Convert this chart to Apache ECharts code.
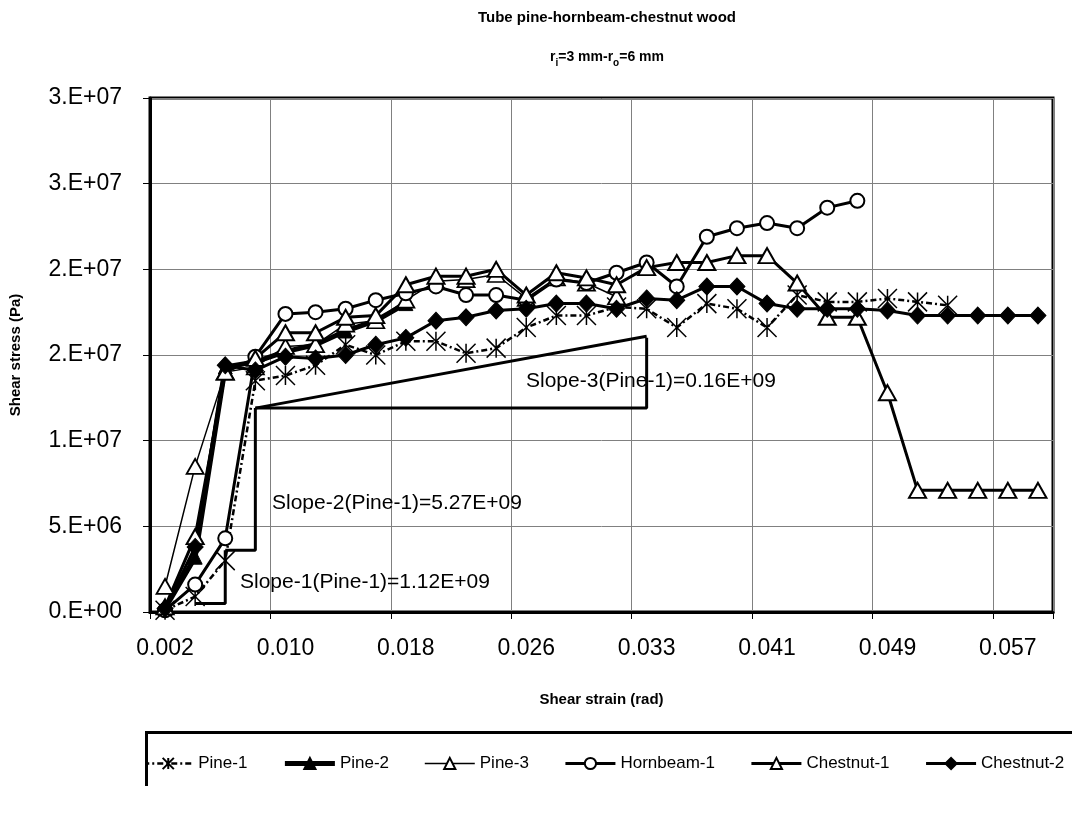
<!DOCTYPE html>
<html>
<head>
<meta charset="utf-8">
<script src="https://cdn.jsdelivr.net/npm/echarts@6/dist/echarts.min.js"></script>
<style>
  html, body { margin: 0; padding: 0; background: #fff; }
  #chart { width: 1072px; height: 814px; }
</style>
</head>
<body>
<div id="chart"></div>
<script>
// Shear strain (rad) at each measurement step
const strainLabels = ['0.002', '0.004', '0.006', '0.008', '0.010', '0.012', '0.014', '0.016',
  '0.018', '0.020', '0.022', '0.024', '0.026', '0.028', '0.030', '0.031', '0.033', '0.035',
  '0.037', '0.039', '0.041', '0.043', '0.045', '0.047', '0.049', '0.051', '0.053', '0.055',
  '0.057', '0.059'];

// Shear stress (Pa) per specimen
const pine1 = [0.1e6, 0.9e6, 3.0e6, 13.5e6, 13.8e6, 14.4e6, 15.6e6, 15.0e6, 15.8e6, 15.8e6,
  15.1e6, 15.4e6, 16.6e6, 17.3e6, 17.3e6, 17.8e6, 17.7e6, 16.6e6, 18.0e6, 17.7e6, 16.6e6,
  18.5e6, 18.1e6, 18.1e6, 18.3e6, 18.1e6, 17.9e6];
const pine2 = [0.2e6, 3.2e6, 14.3e6, 14.6e6, 15.2e6, 15.6e6, 16.4e6, 17.0e6, 18.0e6];
const pine3 = [1.5e6, 8.5e6, 14.0e6, 14.3e6, 15.5e6, 15.6e6, 16.8e6, 17.0e6, 18.2e6, 19.3e6,
  19.4e6, 19.7e6, 18.3e6, 19.5e6, 19.2e6, 18.4e6];
const hornbeam1 = [0.1e6, 1.6e6, 4.3e6, 14.9e6, 17.4e6, 17.5e6, 17.7e6, 18.2e6, 18.6e6, 19.0e6,
  18.5e6, 18.5e6, 18.2e6, 19.4e6, 19.2e6, 19.8e6, 20.4e6, 19.0e6, 21.9e6, 22.4e6, 22.7e6,
  22.4e6, 23.6e6, 24.0e6];
const chestnut1 = [0.3e6, 4.4e6, 14.0e6, 14.8e6, 16.3e6, 16.3e6, 17.2e6, 17.3e6, 19.1e6, 19.6e6,
  19.6e6, 20.0e6, 18.5e6, 19.8e6, 19.5e6, 19.1e6, 20.1e6, 20.4e6, 20.4e6, 20.8e6, 20.8e6,
  19.2e6, 17.2e6, 17.2e6, 12.8e6, 7.1e6, 7.1e6, 7.1e6, 7.1e6, 7.1e6];
const chestnut2 = [0.2e6, 3.8e6, 14.4e6, 14.1e6, 14.9e6, 14.8e6, 15.0e6, 15.6e6, 16.0e6, 17.0e6,
  17.2e6, 17.6e6, 17.7e6, 18.0e6, 18.0e6, 17.7e6, 18.3e6, 18.2e6, 19.0e6, 19.0e6, 18.0e6,
  17.7e6, 17.7e6, 17.7e6, 17.6e6, 17.3e6, 17.3e6, 17.3e6, 17.3e6, 17.3e6];

// Slope construction lines for Pine-1: [strain, stress]
const slope1Guide = [['0.004', 0.5e6], ['0.006', 0.5e6], ['0.006', 3.6e6]];
const slope2Guide = [['0.006', 3.6e6], ['0.008', 3.6e6], ['0.008', 11.9e6]];
const slope3Guide = [['0.008', 11.9e6], ['0.033', 11.9e6], ['0.033', 16.0e6]];
const slope3Rise = [['0.008', 11.9e6], ['0.033', 16.1e6]];

const slopeTexts = ['Slope-1(Pine-1)=1.12E+09', 'Slope-2(Pine-1)=5.27E+09', 'Slope-3(Pine-1)=0.16E+09'];

const FONT = '"Liberation Sans", Arial, Helvetica, sans-serif';

// 1.5e7 -> "2.E+07"
function sciLabel(v) {
  const parts = v.toExponential(0).split('e');
  const exp = parseInt(parts[1], 10);
  return parts[0] + '.E' + (exp < 0 ? '-' : '+') + String(Math.abs(exp)).padStart(2, '0');
}

const asterisk = 'path://M0,0L20,20M20,0L0,20M10,0L10,20';

function dataSeries(name, data, symbol, symbolSize, fill, lineWidth, lineType, borderWidth) {
  return {
    name: name,
    type: 'line',
    data: data,
    symbol: symbol,
    symbolSize: symbolSize,
    showAllSymbol: true,
    animation: false,
    lineStyle: { color: '#000', width: lineWidth, type: lineType },
    itemStyle: { color: fill, borderColor: '#000', borderWidth: borderWidth },
    emphasis: { disabled: true }
  };
}

function guideSeries(data) {
  return {
    type: 'line',
    data: data,
    symbol: 'none',
    silent: true,
    animation: false,
    z: 1,
    lineStyle: { color: '#000', width: 3 }
  };
}

const chart = echarts.init(document.getElementById('chart'), null, { renderer: 'canvas' });

chart.setOption({
  backgroundColor: '#fff',
  animation: false,
  textStyle: { fontFamily: FONT, color: '#000' },
  grid: {
    left: 145, right: 19, top: 98, bottom: 202,
    show: true, borderColor: '#000', borderWidth: 3, backgroundColor: '#fff'
  },
  xAxis: {
    type: 'category',
    data: strainLabels,
    boundaryGap: true,
    name: 'Shear strain (rad)',
    nameLocation: 'middle',
    nameGap: 80,
    nameTextStyle: { fontFamily: FONT, fontSize: 15, fontWeight: 'bold', color: '#000' },
    axisLine: { show: true, lineStyle: { color: '#000', width: 3 } },
    axisTick: { show: true, interval: 3, length: 7, lineStyle: { color: '#000', width: 1 } },
    axisLabel: { interval: 3, margin: 25, fontFamily: FONT, fontSize: 23, color: '#000' },
    splitLine: { show: true, interval: 3, lineStyle: { color: '#808080', width: 1 } }
  },
  yAxis: {
    type: 'value',
    min: 0,
    max: 3e7,
    interval: 5e6,
    name: 'Shear stress (Pa)',
    nameLocation: 'middle',
    nameRotate: 90,
    nameGap: 127,
    nameTextStyle: { fontFamily: FONT, fontSize: 15, fontWeight: 'bold', color: '#000' },
    axisLine: { show: true, lineStyle: { color: '#000', width: 3 } },
    axisTick: { show: true, length: 7, lineStyle: { color: '#000', width: 1 } },
    axisLabel: { formatter: sciLabel, margin: 28, fontFamily: FONT, fontSize: 23, color: '#000' },
    splitLine: { show: true, lineStyle: { color: '#808080', width: 1 } }
  },
  legend: {
    left: 137,
    top: 750,
    itemWidth: 50,
    itemHeight: 14,
    itemGap: 35,
    lineStyle: { width: 'inherit', type: 'inherit' },
    data: ['Pine-1', 'Pine-2', 'Pine-3', 'Hornbeam-1', 'Chestnut-1', 'Chestnut-2'],
    textStyle: { fontFamily: FONT, fontSize: 17, color: '#000' }
  },
  series: [
    guideSeries(slope1Guide),
    guideSeries(slope2Guide),
    guideSeries(slope3Guide),
    guideSeries(slope3Rise),
    dataSeries('Pine-1', pine1, asterisk, 19, '#000', 2.5, [6, 3, 2, 3], 1.5),
    dataSeries('Pine-2', pine2, 'triangle', 14, '#000', 5, 'solid', 1),
    dataSeries('Pine-3', pine3, 'triangle', [17, 15], '#fff', 1.5, 'solid', 1.8),
    dataSeries('Hornbeam-1', hornbeam1, 'circle', 14, '#fff', 3, 'solid', 2),
    dataSeries('Chestnut-1', chestnut1, 'triangle', [17, 15], '#fff', 3, 'solid', 2),
    dataSeries('Chestnut-2', chestnut2, 'diamond', [16, 17], '#000', 3, 'solid', 1)
  ],
  graphic: [
    {
      type: 'text', x: 607, y: 18, silent: true,
      style: {
        text: 'Tube pine-hornbeam-chestnut wood',
        font: 'bold 15px ' + FONT, fill: '#000',
        textAlign: 'center', textVerticalAlign: 'middle'
      }
    },
    {
      type: 'text', x: 607, y: 57, silent: true,
      style: {
        text: '{n|r}{s|i}{n|=3 mm-r}{s|o}{n|=6 mm}',
        textAlign: 'center', textVerticalAlign: 'middle',
        rich: {
          n: { font: 'bold 14px ' + FONT, fill: '#000', lineHeight: 22, verticalAlign: 'middle' },
          s: { font: 'bold 10px ' + FONT, fill: '#000', lineHeight: 22, verticalAlign: 'bottom', padding: [8, 0, 0, 0] }
        }
      }
    },
    {
      type: 'text', x: 240, y: 582, silent: true, z: 10,
      style: { text: slopeTexts[0], font: '21px ' + FONT, fill: '#000', textVerticalAlign: 'middle' }
    },
    {
      type: 'text', x: 272, y: 503, silent: true, z: 10,
      style: { text: slopeTexts[1], font: '21px ' + FONT, fill: '#000', textVerticalAlign: 'middle' }
    },
    {
      type: 'text', x: 526, y: 381, silent: true, z: 10,
      style: { text: slopeTexts[2], font: '21px ' + FONT, fill: '#000', textVerticalAlign: 'middle' }
    },
    // legend frame: keeps entries inside the box edge
    {
      type: 'rect', silent: true, z: 100,
      shape: { x: 0, y: 736, width: 145, height: 50 },
      style: { fill: '#fff' }
    },
    {
      type: 'polyline', silent: true, z: 101,
      shape: { points: [[146.5, 786], [146.5, 732.5], [1072, 732.5]] },
      style: { stroke: '#000', lineWidth: 3, fill: null }
    }
  ]
});
</script>
</body>
</html>
